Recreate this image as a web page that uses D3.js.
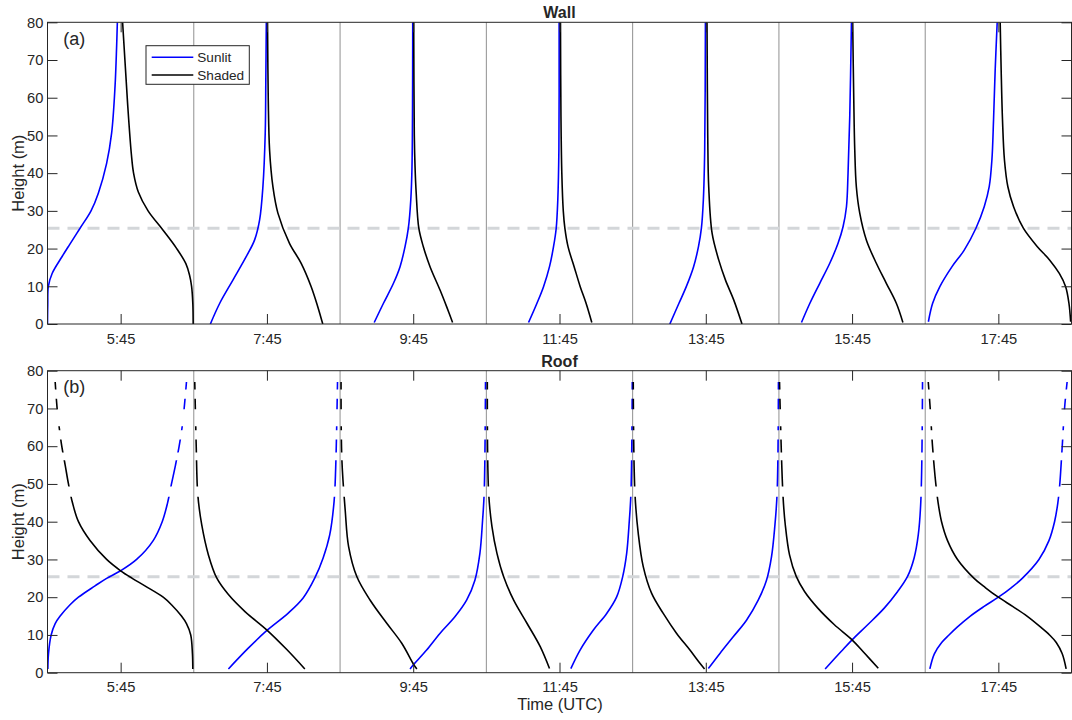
<!DOCTYPE html>
<html>
<head>
<meta charset="utf-8">
<script src="https://cdn.jsdelivr.net/npm/d3@7"></script>
<style>
  body { margin: 0; background: #fff; }
  svg { display: block; }
  text { font-family: "Liberation Sans", Arial, sans-serif; fill: #262626; }
</style>
</head>
<body>
<svg id="chart" width="1072" height="720"></svg>
<script>
// Time slots (UTC); every slot is a 2-hour window centred on its label.
const slotTimes = ["5:45", "7:45", "9:45", "11:45", "13:45", "15:45", "17:45"];
const heightTicks = [0, 10, 20, 30, 40, 50, 60, 70, 80];
const referenceHeight = 25.4; // dashed reference level (m)

// Profiles: [height (m), offset (min) from the slot centre]
const wallSunlit = [
  [[0,-60],[5,-59.8],[10,-59.3],[13.4,-56.2],[17.9,-48],[21,-42],[25.4,-33.3],[30,-24.3],[34.7,-18.3],[42.6,-11.5],[50.6,-7.4],[63,-4.6],[73.6,-3.3],[80,-2.7]],
  [[0,-46.4],[5.5,-38.7],[11.7,-27.8],[17.9,-16.9],[22.3,-10.1],[27.6,-6],[36.4,-3.3],[50.6,-1.4],[65,-0.9],[80,-0.5]],
  [[0.4,-32],[5.5,-24.4],[10.8,-16.2],[15.2,-10.8],[20.5,-6.7],[25.4,-4],[32.9,-2],[41.7,-1],[80,-0.4]],
  [[0.4,-25.4],[5.5,-18.5],[9.9,-13.1],[15.2,-8.2],[20.5,-4.9],[25.4,-2.7],[32.9,-1.4],[46.2,-0.5],[80,-0.3]],
  [[0,-29.5],[5.5,-22],[9.9,-16],[15.2,-10],[20.5,-6],[25.4,-3.6],[32.9,-2],[46,-0.9],[80,-0.3]],
  [[0.4,-41.5],[5.5,-34.6],[10.8,-26.5],[16.1,-18.3],[21.4,-11.5],[25.8,-7.4],[31.1,-4.6],[40,-3.3],[55,-1.9],[80,-0.5]],
  [[0.6,-57.4],[5.5,-53.9],[9.9,-48],[15.2,-38],[19.6,-28],[25.4,-18.4],[31.1,-11.6],[36.4,-7.5],[43.5,-5.3],[54.1,-3.95],[67.4,-2.6],[80,-0.95]]
];
const wallShaded = [
  [[0,59.5],[5.5,59.2],[10,58.2],[13,56.5],[16,53.5],[20,46],[25,34.5],[30,22.5],[35,14.5],[40,10.6],[45,8.8],[58.5,5.7],[70,3.5],[80,1.6]],
  [[0,45.8],[4.6,41.7],[9.9,36.3],[16.1,28.1],[21.4,18.5],[29.4,9],[36.4,4.9],[46,2.2],[59.4,1.1],[80,0.5]],
  [[0.4,32.3],[4.6,27.4],[9,22],[15.2,13.8],[20.5,8.3],[25.4,4.6],[35,2.4],[41.7,1.5],[50,0.9],[80,0.4]],
  [[0.4,26.5],[5.5,21.8],[9.9,17],[15.2,12],[20.5,7],[25.4,4.4],[30,3.1],[40,1.9],[55,1.2],[80,0.8]],
  [[0,29.7],[6.4,22.9],[11.7,16.1],[17,10.6],[24,5.2],[36.4,2.4],[50,1.6],[80,1]],
  [[0.4,41.7],[5.5,36.3],[10.8,28.1],[16.1,19.9],[22.3,11.7],[29.4,6.3],[36.4,3.5],[46.2,2.2],[59.4,1.4],[80,0.5]],
  [[0.6,59.3],[5.5,57.9],[9.9,55.2],[13.4,50],[17,42],[20.5,32],[25.4,20.5],[31.1,12.5],[36.4,7.8],[43.5,5],[54.1,3.4],[67.4,2.3],[80,1.5]]
];
const roofSunlit = [
  [[1,-59.7],[5,-59.2],[10,-57],[13,-53.7],[15,-49.6],[18,-41.5],[20,-34.6],[23,-21],[25,-11.5],[27,0],[30,13.1],[35,26.7],[40,34.1],[45,38.5],[50,41.7],[55,45],[60,48],[65,50.4],[70,52.1],[77,54]],
  [[1,-31.6],[6.5,-15.3],[11.2,0],[15.8,17.5],[19.8,29.7],[25.1,39.3],[30.4,46.1],[36.5,51.5],[45.4,55.1],[54.2,56.4],[77,57.9]],
  [[1,-2.6],[2.3,0.7],[6,11],[10.4,21.9],[14.8,34.2],[19.2,43.8],[24.5,50.6],[31.6,54.7],[40.4,56.9],[47.5,58.2],[77,59.3]],
  [[1.1,9.3],[6,16.9],[11.3,27.8],[15.7,38.7],[20.1,46.9],[25.4,51.8],[31.6,55.1],[40.4,57.3],[47.5,58.6],[77,59.7]],
  [[1.1,2.1],[5.1,11.6],[9.5,22.5],[13.9,33.4],[19.2,43],[24.5,49.8],[30.7,53.9],[38.7,56.6],[47.5,58.5],[77,59.6]],
  [[1,-22.1],[5.6,-9],[8.7,0],[12.7,12.8],[17.1,26.4],[21.5,37.4],[25.5,45.5],[30.4,50.9],[36.5,54.3],[45.4,56.4],[77,57.8]],
  [[1,-56.2],[5,-52.5],[8,-46.5],[10,-40.5],[12,-34],[15,-23],[17.5,-12],[20,0],[22.5,10.5],[25,19.6],[30,33.3],[35,41.5],[40,46.1],[45,48.8],[50,50.4],[60,52.4],[70,54.3],[77,56.4]]
];
const roofShaded = [
  [[1,59.2],[5,58.9],[10,57.5],[13,54],[15,49.9],[18,41.7],[20,34.9],[23,19.9],[25,9.5],[27,0],[30,-11.5],[35,-25.1],[40,-34.6],[45,-39.5],[50,-42.8],[55,-45.5],[60,-48.3],[65,-50.4],[70,-52.1],[77,-53.7]],
  [[1,31.1],[6.2,16.1],[11.3,0],[16.2,-18],[20.7,-31.6],[25.1,-41.2],[31.2,-48],[39.2,-53.5],[47.1,-56.7],[60,-58],[77,-59.2]],
  [[1,3],[2,0.7],[7.8,-9.4],[13.1,-21.7],[19.2,-35.3],[25.4,-46.2],[33.4,-53],[43.1,-55.8],[56.3,-58.5],[77,-59.2]],
  [[1.1,-8.2],[6.9,-15.8],[13.1,-26.7],[19.2,-37.6],[25.4,-45.8],[31.6,-51.3],[38.7,-55.4],[47.5,-58.1],[77,-59.2]],
  [[1,-1],[2.5,-4.8],[6,-13],[10.4,-23.9],[15.7,-34.9],[21,-44.4],[28.1,-51.3],[36.9,-55.4],[47.5,-58.1],[77,-59.5]],
  [[1.2,21.5],[5.2,10.1],[8.7,0],[12.7,-14.5],[17.1,-28.1],[21.5,-39],[25.5,-45.8],[31.2,-51.3],[39.2,-54.8],[47.1,-56.7],[77,-59.5]],
  [[1,55.6],[5,52.4],[8,47.5],[10,42],[12,35],[15,23.5],[17.5,12],[20,0],[22.5,-10.5],[25,-19.9],[30,-33.5],[35,-41.7],[40,-46.6],[45,-49.4],[50,-51.3],[60,-54],[70,-55.9],[77,-57.5]]
];
// Height ranges (m) where the roof profiles have valid samples
const roofValidBands = [[0,46.6],[49.3,56.3],[58.3,61.8],[64.2,65.3],[69.8,72.6],[75,77.2]];

const toMinutes = s => { const [h, m] = s.split(":").map(Number); return h * 60 + m; };
const slotCentres = slotTimes.map(toMinutes);
const slotHalf = 60;

const svg = d3.select("#chart");
const left = 47.5, right = 1071.5;
const x = d3.scaleLinear()
  .domain([slotCentres[0] - slotHalf, slotCentres[slotCentres.length - 1] + slotHalf])
  .range([left, right]);

const panels = [
  { id: "wall", title: "Wall", tag: "(a)", top: 22.3, bottom: 324, sunlit: wallSunlit, shaded: wallShaded, bands: null, legend: true },
  { id: "roof", title: "Roof", tag: "(b)", top: 370.7, bottom: 672.7, sunlit: roofSunlit, shaded: roofShaded, bands: roofValidBands, legend: false }
];

const axisColor = "#262626";

panels.forEach(p => {
  const y = d3.scaleLinear().domain([0, 80]).range([p.bottom, p.top]);
  const g = svg.append("g");

  const clipId = "clip-" + p.id;
  g.append("clipPath").attr("id", clipId)
    .append("rect").attr("x", left).attr("y", p.top)
    .attr("width", right - left).attr("height", p.bottom - p.top);

  // slot dividers
  g.append("g").selectAll("line")
    .data(slotCentres.slice(0, -1))
    .join("line")
    .attr("x1", d => x(d + slotHalf)).attr("x2", d => x(d + slotHalf))
    .attr("y1", p.top).attr("y2", p.bottom)
    .attr("stroke", "#909090").attr("stroke-width", 1);

  // reference height
  g.append("line")
    .attr("x1", left).attr("x2", right)
    .attr("y1", y(referenceHeight)).attr("y2", y(referenceHeight))
    .attr("stroke", "#d3d6d9").attr("stroke-width", 3)
    .attr("stroke-dasharray", "12,8");

  // profile curves
  let curveClip = clipId;
  if (p.bands) {
    curveClip = "bands-" + p.id;
    g.append("clipPath").attr("id", curveClip)
      .selectAll("rect").data(p.bands).join("rect")
      .attr("x", left).attr("width", right - left)
      .attr("y", d => y(d[1])).attr("height", d => y(d[0]) - y(d[1]));
  }
  const curves = g.append("g").attr("clip-path", `url(#${curveClip})`);
  const series = [
    { rows: p.sunlit, color: "#0000ff" },
    { rows: p.shaded, color: "#000000" }
  ];
  series.forEach(s => {
    s.rows.forEach((pts, i) => {
      const c = slotCentres[i];
      const line = d3.line()
        .x(d => x(c + d[1]))
        .y(d => y(d[0]))
        .curve(d3.curveCatmullRom.alpha(0.5));
      curves.append("path")
        .attr("d", line(pts))
        .attr("fill", "none")
        .attr("stroke", s.color)
        .attr("stroke-width", 1.6)
        .attr("stroke-linejoin", "round");
    });
  });

  // frame
  g.append("rect")
    .attr("x", left).attr("y", p.top)
    .attr("width", right - left).attr("height", p.bottom - p.top)
    .attr("fill", "none").attr("stroke", axisColor).attr("stroke-width", 1);

  const styleAxis = sel => {
    sel.select(".domain").remove();
    sel.selectAll(".tick line").attr("stroke", axisColor);
    sel.selectAll(".tick text").attr("fill", axisColor)
      .style("font-family", '"Liberation Sans", Arial, sans-serif')
      .style("font-size", "14.7px");
  };

  // x axes (bottom labelled, top ticks only)
  g.append("g").attr("transform", `translate(0,${p.bottom})`)
    .call(d3.axisBottom(x).tickValues(slotCentres)
      .tickFormat((d, i) => slotTimes[i]).tickSize(-10).tickPadding(9.2))
    .call(styleAxis);
  g.append("g").attr("transform", `translate(0,${p.top})`)
    .call(d3.axisTop(x).tickValues(slotCentres).tickFormat("").tickSize(-10))
    .call(styleAxis);

  // y axes
  g.append("g").attr("transform", `translate(${left},0)`)
    .call(d3.axisLeft(y).tickValues(heightTicks).tickSize(-10).tickPadding(4.2))
    .call(styleAxis);
  g.append("g").attr("transform", `translate(${right},0)`)
    .call(d3.axisRight(y).tickValues(heightTicks).tickFormat("").tickSize(-10))
    .call(styleAxis);

  // title, tag, y label
  g.append("text")
    .attr("x", (left + right) / 2).attr("y", p.top - 4)
    .attr("text-anchor", "middle")
    .style("font-size", "16px").style("font-weight", "bold")
    .attr("fill", "#000")
    .text(p.title);
  g.append("text")
    .attr("x", 63.3).attr("y", p.top + 22.2)
    .style("font-size", "18px")
    .attr("fill", "#000")
    .text(p.tag);
  g.append("text")
    .attr("transform", `translate(23.5,${(p.top + p.bottom) / 2}) rotate(-90)`)
    .attr("text-anchor", "middle")
    .style("font-size", "16.5px")
    .text("Height (m)");

  if (p.legend) {
    const lg = g.append("g");
    lg.append("rect")
      .attr("x", 146).attr("y", 45.7).attr("width", 103.3).attr("height", 38.6)
      .attr("fill", "#fff").attr("stroke", axisColor).attr("stroke-width", 1);
    const items = [
      { label: "Sunlit", color: "#0000ff", yy: 57.3 },
      { label: "Shaded", color: "#000000", yy: 75 }
    ];
    items.forEach(it => {
      lg.append("line").attr("x1", 151.7).attr("x2", 193.3)
        .attr("y1", it.yy).attr("y2", it.yy)
        .attr("stroke", it.color).attr("stroke-width", 1.6);
      lg.append("text").attr("x", 197.3).attr("y", it.yy + 4.8)
        .style("font-size", "13.6px").attr("fill", "#000")
        .text(it.label);
    });
  }
});

svg.append("text")
  .attr("x", 560).attr("y", 710)
  .attr("text-anchor", "middle")
  .style("font-size", "16.5px")
  .text("Time (UTC)");
</script>
</body>
</html>
